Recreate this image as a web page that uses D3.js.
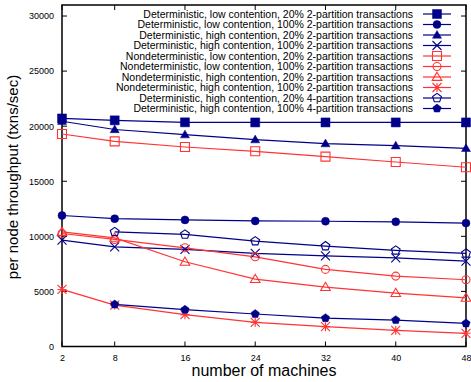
<!DOCTYPE html>
<html><head><meta charset="utf-8">
<script src="https://cdn.jsdelivr.net/npm/d3@7"></script>
<style>body{margin:0;background:#fff}svg{display:block;font-family:"Liberation Sans",Arial,sans-serif}</style>
</head><body><svg id="c" width="471" height="382"></svg>
<script>
const machines = [2, 8, 16, 24, 32, 40, 48];
const xTicks = [2, 8, 16, 24, 32, 40, 48];
const yTicks = [0, 5000, 10000, 15000, 20000, 25000, 30000];
const seriesNames = [
  "Deterministic, low contention, 20% 2-partition transactions",
  "Deterministic, low contention, 100% 2-partition transactions",
  "Deterministic, high contention, 20% 2-partition transactions",
  "Deterministic, high contention, 100% 2-partition transactions",
  "Nondeterministic, low contention, 20% 2-partition transactions",
  "Nondeterministic, low contention, 100% 2-partition transactions",
  "Nondeterministic, high contention, 20% 2-partition transactions",
  "Nondeterministic, high contention, 100% 2-partition transactions",
  "Deterministic, high contention, 20% 4-partition transactions",
  "Deterministic, high contention, 100% 4-partition transactions"
];
const detLow20 = [20700, 20530, 20350, 20340, 20340, 20340, 20340];
const detLow100 = [11890, 11600, 11490, 11400, 11370, 11320, 11200];
const detHigh20 = [20450, 19700, 19230, 18780, 18420, 18230, 17990];
const detHigh100 = [9650, 9050, 8820, 8450, 8230, 8050, 7750];
const nondetLow20 = [19290, 18620, 18110, 17720, 17240, 16750, 16270];
const nondetLow100 = [10260, 9720, 8960, 8140, 7000, 6390, 6060];
const nondetHigh20 = [10400, 9860, 7690, 6120, 5390, 4850, 4420];
const nondetHigh100 = [5180, 3760, 2890, 2190, 1800, 1470, 1200];
const detHigh20p4 = [null, 10400, 10170, 9560, 9110, 8720, 8450];
const detHigh100p4 = [null, 3820, 3340, 2950, 2580, 2400, 2100];
const seriesValues = [detLow20, detLow100, detHigh20, detHigh100, nondetLow20, nondetLow100, nondetHigh20, nondetHigh100, detHigh20p4, detHigh100p4];
const seriesColors = ["b","b","b","b","r","r","r","r","b","b"];
const seriesMarkers = ["fsquare","fcircle","ftriangle","x","osquare","ocircle","otriangle","asterisk","opentagon","fpentagon"];

const BLUE = "#00008b", RED = "#ff3333";
const svg = d3.select("#c");
const L = 62, R = 466, T = 5, B = 346.5;
const x = d3.scaleLinear().domain([2, 48]).range([L, R]);
const y = d3.scaleLinear().domain([0, 31000]).range([B, T]);

function pentagon(r){
  const pts = d3.range(5).map(i => { const a = -Math.PI/2 + i*2*Math.PI/5; return [r*Math.cos(a), r*Math.sin(a)]; });
  return "M" + pts.map(p => p.join(",")).join("L") + "Z";
}
function markerPath(type){
  switch(type){
    case "fsquare": return "M-4.5,-4.5H4.5V4.5H-4.5Z";
    case "osquare": return "M-4.5,-4.5H4.5V4.5H-4.5Z";
    case "fcircle": return d3.symbol(d3.symbolCircle, 50)();
    case "ocircle": return d3.symbol(d3.symbolCircle, 50)();
    case "ftriangle": return "M0,-4.5L4.5,3.2H-4.5Z";
    case "otriangle": return "M0,-4.8L4.8,3.4H-4.8Z";
    case "x": return "M-4.5,-4.5L4.5,4.5M-4.5,4.5L4.5,-4.5";
    case "asterisk": return "M-4.5,-4.5L4.5,4.5M-4.5,4.5L4.5,-4.5M-4.5,0H4.5M0,-4.5V4.5";
    case "opentagon": return pentagon(4.6);
    case "fpentagon": return pentagon(4.4);
  }
}
function isFilled(t){ return t[0] === "f"; }
function drawMarker(g, type, color, cx, cy){
  const f = isFilled(type);
  g.append("path").attr("d", markerPath(type))
    .attr("transform", `translate(${cx},${cy})`)
    .attr("fill", f ? color : "none")
    .attr("stroke", color).attr("stroke-width", f ? 0.5 : 1.1);
}

const axG = svg.append("g");
axG.append("g").attr("transform", `translate(0,${B})`)
  .call(d3.axisBottom(x).tickValues(xTicks).tickSize(0).tickPadding(8).tickFormat(d3.format("d")))
  .call(g => { g.select(".domain").remove(); g.selectAll("text").attr("font-size", 9).attr("fill", "#000").attr("font-family", "Liberation Sans, Arial"); });
axG.append("g").attr("transform", `translate(${L},0)`)
  .call(d3.axisLeft(y).tickValues(yTicks).tickSize(0).tickPadding(8).tickFormat(d3.format("d")))
  .call(g => { g.select(".domain").remove(); g.selectAll("text").attr("font-size", 9).attr("fill", "#000").attr("font-family", "Liberation Sans, Arial"); });
const tk = axG.append("g").attr("stroke", "#000").attr("stroke-width", 1);
xTicks.forEach(v => {
  tk.append("line").attr("x1", x(v)).attr("x2", x(v)).attr("y1", B).attr("y2", B - 5);
  tk.append("line").attr("x1", x(v)).attr("x2", x(v)).attr("y1", T).attr("y2", T + 5);
});
yTicks.forEach(v => {
  tk.append("line").attr("x1", L).attr("x2", L + 5).attr("y1", y(v)).attr("y2", y(v));
  tk.append("line").attr("x1", R).attr("x2", R - 5).attr("y1", y(v)).attr("y2", y(v));
});
axG.append("rect").attr("x", L).attr("y", T).attr("width", R - L).attr("height", B - T)
  .attr("fill", "none").attr("stroke", "#000").attr("stroke-width", 1.5);

svg.append("text").attr("x", 264).attr("y", 376).attr("text-anchor", "middle")
  .attr("font-size", 16).text("number of machines");
svg.append("text").attr("transform", "translate(18,177) rotate(-90)").attr("text-anchor", "middle")
  .attr("font-size", 15).text("per node throughput (txns/sec)");

const line = d3.line().defined(d => d[1] != null).x(d => x(d[0])).y(d => y(d[1]));
const sg = svg.append("g");
seriesValues.forEach((vals, i) => {
  const col = seriesColors[i] === "b" ? BLUE : RED;
  const pts = machines.map((m, j) => [m, vals[j]]);
  sg.append("path").attr("d", line(pts)).attr("fill", "none").attr("stroke", col).attr("stroke-width", 1.2);
});
seriesValues.forEach((vals, i) => {
  const col = seriesColors[i] === "b" ? BLUE : RED;
  machines.forEach((m, j) => { if (vals[j] != null) drawMarker(sg, seriesMarkers[i], col, x(m), y(vals[j])); });
});

const lg = svg.append("g");
seriesNames.forEach((name, i) => {
  const col = seriesColors[i] === "b" ? BLUE : RED;
  const cy = 14 + i * 10.5;
  lg.append("text").attr("x", 413).attr("y", cy + 3.7).attr("text-anchor", "end")
    .attr("font-size", 10.5).attr("fill", "#000").text(name);
  lg.append("line").attr("x1", 423).attr("x2", 451).attr("y1", cy).attr("y2", cy)
    .attr("stroke", col).attr("stroke-width", 1.2);
  drawMarker(lg, seriesMarkers[i], col, 437, cy);
});
</script></body></html>
